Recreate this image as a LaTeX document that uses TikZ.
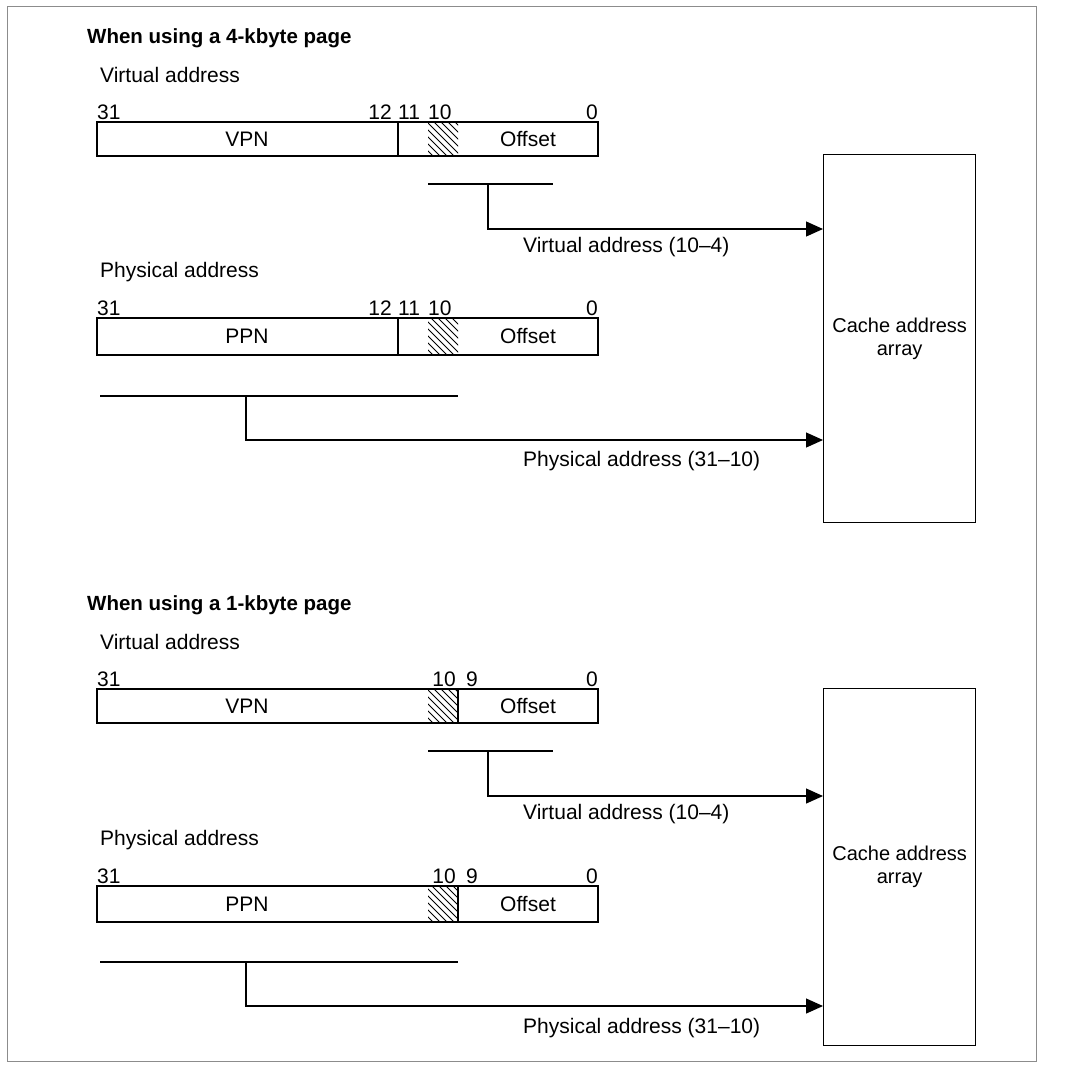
\documentclass[tikz,border=0pt]{standalone}
\usepackage{fontspec}
\setmainfont{Liberation Sans}
\usetikzlibrary{arrows.meta}
\begin{document}
\begin{tikzpicture}[x=1pt,y=-1pt,
  font=\fontsize{21}{24}\selectfont,
  txt/.style={inner sep=0pt, anchor=west},
  ttl/.style={inner sep=0pt, anchor=west, font=\fontsize{20.5}{24}\selectfont\bfseries},
  bitr/.style={inner sep=0pt, anchor=east},
  bitl/.style={inner sep=0pt, anchor=west},
  boxline/.style={draw, line width=1.3pt},
  cachebox/.style={boxline, minimum width=152pt, anchor=north west, align=center,
    inner sep=0pt, font=\fontsize{20}{23}\selectfont},
  conn/.style={line width=1.2pt},
  arr/.style={conn, -{Triangle[length=17pt,width=15pt]}},
  hatchline/.style={line width=0.8pt},
  frame/.style={draw=black!45, line width=1pt}]
\useasboundingbox (0,0) rectangle (1086,1072);
\draw[frame] (7,6) rectangle (1036,1061);

% ===== 4-kbyte page =====
\node[ttl] (t1) at (87,38) {When using a 4-kbyte page};
\node[txt] (va1) at (100,75) {Virtual address};
\node[bitl] (b31a) at (97,112) {31};
\node[bitr] (b12a) at (392,112) {12};
\node[bitl] (b11a) at (398,112) {11};
\node[bitl] (b10a) at (428,112) {10};
\node[bitr] (b0a) at (598,112) {0};
\draw[boxline] (97,122) rectangle (598,156);
\draw[boxline] (398,122) -- (398,156);
\begin{scope}
  \clip (428,122) rectangle (458,156);
  \foreach \x in {392,399,...,462} \draw[hatchline] (\x,122) -- (\x+34,156);
\end{scope}
\node (vpn1) at (247,139) {VPN};
\node (off1) at (528,139) {Offset};

\coordinate (vl1a) at (428,184);
\coordinate (vl1b) at (553,184);
\coordinate (vj1) at (488,184);
\coordinate (vk1) at (488,229);
\draw[conn] (vl1a) -- (vl1b);

\node[txt] (pa1) at (100,272) {Physical address};
\node[bitl] (b31b) at (97,308) {31};
\node[bitr] (b12b) at (392,308) {12};
\node[bitl] (b11b) at (398,308) {11};
\node[bitl] (b10b) at (428,308) {10};
\node[bitr] (b0b) at (598,308) {0};
\draw[boxline] (97,318) rectangle (598,355);
\draw[boxline] (398,318) -- (398,355);
\begin{scope}
  \clip (428,318) rectangle (458,355);
  \foreach \x in {389,396,...,462} \draw[hatchline] (\x,318) -- (\x+37,355);
\end{scope}
\node (ppn1) at (247,336) {PPN};
\node (off2) at (528,336) {Offset};

\coordinate (pl1a) at (100,396);
\coordinate (pl1b) at (458,396);
\coordinate (pj1) at (246,396);
\coordinate (pk1) at (246,440);
\draw[conn] (pl1a) -- (pl1b);

\node[cachebox, minimum height=368pt] (cache1) at (823,154) {Cache address\\array};

\draw[arr] (vj1) -- (vk1) -- (vk1 -| cache1.west);
\draw[arr] (pj1) -- (pk1) -- (pk1 -| cache1.west);
\node[txt] (vlab1) at (523,247) {Virtual address (10–4)};
\node[txt] (plab1) at (523,461) {Physical address (31–10)};

% ===== 1-kbyte page =====
\node[ttl] (t2) at (87,605) {When using a 1-kbyte page};
\node[txt] (va2) at (100,642) {Virtual address};
\node[bitl] (b31c) at (97,679) {31};
\node[bitr] (b10c) at (456,679) {10};
\node[bitl] (b9c) at (466,679) {9};
\node[bitr] (b0c) at (598,679) {0};
\draw[boxline] (97,689) rectangle (598,723);
\draw[boxline] (458,689) -- (458,723);
\begin{scope}
  \clip (428,689) rectangle (458,723);
  \foreach \x in {392,399,...,462} \draw[hatchline] (\x,689) -- (\x+34,723);
\end{scope}
\node (vpn2) at (247,706) {VPN};
\node (off3) at (528,706) {Offset};

\coordinate (vl2a) at (428,751);
\coordinate (vl2b) at (553,751);
\coordinate (vj2) at (488,751);
\coordinate (vk2) at (488,796);
\draw[conn] (vl2a) -- (vl2b);

\node[txt] (pa2) at (100,840) {Physical address};
\node[bitl] (b31d) at (97,876) {31};
\node[bitr] (b10d) at (456,876) {10};
\node[bitl] (b9d) at (466,876) {9};
\node[bitr] (b0d) at (598,876) {0};
\draw[boxline] (97,886) rectangle (598,922);
\draw[boxline] (458,886) -- (458,922);
\begin{scope}
  \clip (428,886) rectangle (458,922);
  \foreach \x in {390,397,...,462} \draw[hatchline] (\x,886) -- (\x+36,922);
\end{scope}
\node (ppn2) at (247,904) {PPN};
\node (off4) at (528,904) {Offset};

\coordinate (pl2a) at (100,962);
\coordinate (pl2b) at (458,962);
\coordinate (pj2) at (246,962);
\coordinate (pk2) at (246,1006);
\draw[conn] (pl2a) -- (pl2b);

\node[cachebox, minimum height=357pt] (cache2) at (823,688) {Cache address\\array};

\draw[arr] (vj2) -- (vk2) -- (vk2 -| cache2.west);
\draw[arr] (pj2) -- (pk2) -- (pk2 -| cache2.west);
\node[txt] (vlab2) at (523,814) {Virtual address (10–4)};
\node[txt] (plab2) at (523,1028) {Physical address (31–10)};
\end{tikzpicture}
\end{document}
